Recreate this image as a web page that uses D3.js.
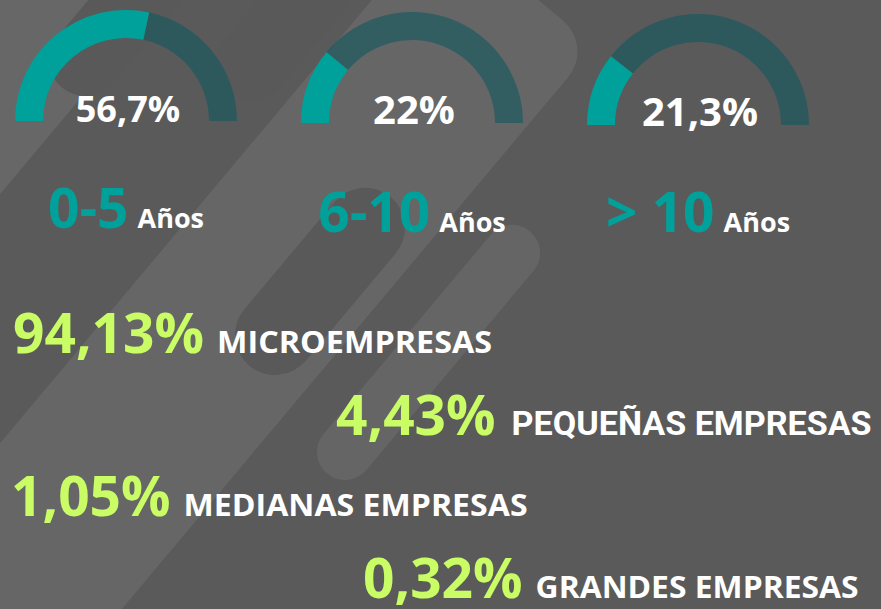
<!DOCTYPE html>
<html>
<head>
<meta charset="utf-8">
<script src="https://cdn.jsdelivr.net/npm/d3@7"></script>
<style>
  html, body { margin: 0; padding: 0; background: #5a5a5a; }
  svg { display: block; }
  text { font-family: "Open Sans", sans-serif; font-weight: 700; }
</style>
</head>
<body>
<svg id="chart"></svg>
<script>
// age of companies (share of total, %)
const ageLabels = ['0-5', '6-10', '> 10'];
const ageUnit = 'Años';
const ageShare = [56.7, 22, 21.3];
// company size (share of total, %)
const sizeLabels = ['MICROEMPRESAS', 'PEQUEÑAS EMPRESAS', 'MEDIANAS EMPRESAS', 'GRANDES EMPRESAS'];
const sizeShare = [94.13, 4.43, 1.05, 0.32];

const W = 881, H = 609;
const teal = '#00a19a', tealRest = 'rgba(18,88,96,0.62)', lime = '#c9fc65';
const es = d3.formatLocale({decimal: ',', thousands: '.', grouping: [3], currency: ['', '€']});
const fmtAge = es.format('.3~r'), fmtSize = es.format('.2f');

const svg = d3.select('#chart').attr('width', W).attr('height', H);
svg.append('rect').attr('width', W).attr('height', H).attr('fill', '#5a5a5a');

// decorative diagonal bands in the background: [x, y, length, width, fill]
const bands = [
  [-210, 250, 520, 250, '#676767'],
  [-85, 700, 837, 200, '#666666'],
  [85, 60, 220, 72, '#595959'],
  [252, 64, 200, 72, '#595959'],
  [275, 335, 140, 80, '#595959'],
  [345, 452, 260, 56, '#656565'],
  [505, -8, 150, 56, '#666666']
];
svg.append('g').selectAll('g').data(bands).join('g')
  .attr('transform', d => `translate(${d[0]},${d[1]}) rotate(-50)`)
  .append('rect')
  .attr('x', d => -d[3] / 2).attr('y', d => -d[3] / 2)
  .attr('width', d => d[2] + d[3]).attr('height', d => d[3])
  .attr('rx', d => Math.min(d[3] / 2, 40))
  .attr('fill', d => d[4]);

// gauges
const gx = d3.scalePoint().domain(ageLabels).range([126, 698]);
const gy = d3.scalePoint().domain(ageLabels).range([121, 125]);
const angle = d3.scaleLinear().domain([0, 100]).range([-Math.PI / 2, Math.PI / 2]);
const arc = d3.arc().innerRadius(83).outerRadius(111);
const valueSize = [36, 40, 40];
const gauges = svg.append('g').selectAll('g').data(ageLabels).join('g')
  .attr('transform', d => `translate(${gx(d)},${gy(d)})`);
gauges.append('path').attr('fill', tealRest)
  .attr('d', (d, i) => arc({startAngle: angle(ageShare[i]), endAngle: angle(100)}));
gauges.append('path').attr('fill', teal)
  .attr('d', (d, i) => arc({startAngle: angle(0), endAngle: angle(ageShare[i])}));
gauges.append('text').attr('text-anchor', 'middle').attr('x', 2).attr('y', 1)
  .attr('fill', '#fff').attr('font-size', (d, i) => valueSize[i])
  .text((d, i) => fmtAge(ageShare[i]) + '%');

const cat = svg.append('g').selectAll('text').data(ageLabels).join('text')
  .attr('text-anchor', 'middle').attr('x', d => gx(d))
  .attr('y', (d, i) => i ? 232 : 228);
cat.append('tspan').attr('fill', teal).attr('font-size', 55).text(d => d);
cat.append('tspan').attr('fill', '#fff').attr('font-size', 27).attr('dx', 9).text(ageUnit);

// size rows
const ry = d3.scalePoint().domain(sizeLabels).range([353, 598]);
const indent = [13, 336, 11, 363];
const labelFont = ['"Open Sans"', 'Roboto', '"Open Sans"', '"Open Sans"'];
const labelWeight = [700, 500, 700, 700];
const labelSize = [31, 34, 30, 31];
const labelLen = [275, 360, 344, 323];
const rows = svg.append('g').selectAll('g').data(sizeLabels).join('g')
  .attr('transform', (d, i) => `translate(${indent[i]},${ry(d)})`);
rows.append('text').attr('class', 'val').attr('fill', lime).attr('font-size', 55)
  .text((d, i) => fmtSize(sizeShare[i]) + '%');
rows.append('text').attr('fill', '#fff')
  .attr('x', function(d, i) {
    return this.parentNode.querySelector('.val').getComputedTextLength() + (i === 1 ? 16 : 13);
  })
  .style('font-family', (d, i) => labelFont[i]).attr('font-weight', (d, i) => labelWeight[i])
  .attr('font-size', (d, i) => labelSize[i])
  .attr('textLength', (d, i) => labelLen[i]).attr('lengthAdjust', 'spacingAndGlyphs')
  .text(d => d);
</script>
</body>
</html>
